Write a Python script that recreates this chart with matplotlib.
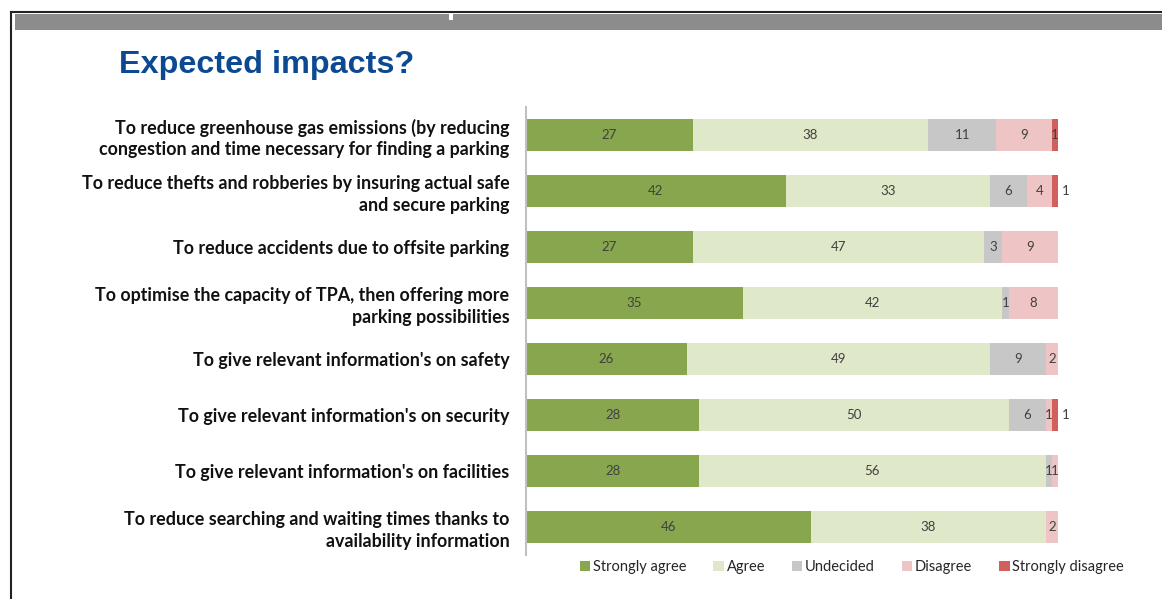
import matplotlib.pyplot as plt
import numpy as np

categories = [
    "To reduce greenhouse gas emissions (by reducing\ncongestion and time necessary for finding a parking",
    "To reduce thefts and robberies by insuring actual safe\nand secure parking",
    "To reduce accidents due to offsite parking",
    "To optimise the capacity of TPA, then offering more\nparking possibilities",
    "To give relevant information's on safety",
    "To give relevant information's on security",
    "To give relevant information's on facilities",
    "To reduce searching and waiting times thanks to\navailability information",
]
series = ["Strongly agree", "Agree", "Undecided", "Disagree", "Strongly disagree"]
strongly_agree = [27, 42, 27, 35, 26, 28, 28, 46]
agree = [38, 33, 47, 42, 49, 50, 56, 38]
undecided = [11, 6, 3, 1, 9, 6, 1, 0]
disagree = [9, 4, 9, 8, 2, 1, 1, 2]
strongly_disagree = [1, 1, 0, 0, 0, 1, 0, 0]
# labels of these (row, series) segments sit just right of the bar
outside = [(1, 4), (5, 4)]

colors = ["#88a64e", "#dfe8c8", "#c7c7c7", "#eec4c4", "#d1605d"]
font = ["Lato", "DejaVu Sans"]

fig = plt.figure(figsize=(11.62, 5.99), dpi=100)

# slide frame
fig.add_artist(plt.Line2D([11 / 1162, 11 / 1162], [0, 1 - 12 / 599], color="#222222", lw=1.5))
fig.add_artist(plt.Line2D([11 / 1162, 1], [1 - 12 / 599, 1 - 12 / 599], color="#222222", lw=1.5))
fig.add_artist(plt.Rectangle((15 / 1162, 1 - 30 / 599), 1, 16 / 599, color="#8c8c8c", lw=0))
fig.add_artist(plt.Rectangle((449 / 1162, 1 - 20 / 599), 4 / 1162, 6 / 599, color="white", lw=0))

fig.text(119 / 1162, 1 - 65 / 599, "Expected impacts?", fontsize=23.3, fontweight="bold",
         color="#0b4a92", family="Liberation Sans", va="center", ha="left")

ax = fig.add_axes([526 / 1162, 44 / 599, 532 / 1162, 448 / 599])
data = np.array([strongly_agree, agree, undecided, disagree, strongly_disagree])
y = np.arange(len(categories))
left = np.zeros(len(categories))
for i, name in enumerate(series):
    ax.barh(y, data[i], left=left, height=0.57, color=colors[i], label=name)
    for r in range(len(categories)):
        v = data[i][r]
        if v == 0:
            continue
        if (r, i) in outside:
            x, ha = left[r] + v + 0.6, "left"
        else:
            x, ha = left[r] + v / 2, "center"
        ax.text(x, r, str(v), ha=ha, va="center", fontsize=9.5, color="#404040",
                family=font, clip_on=False)
    left += data[i]

ax.set_xlim(0, 86)
ax.set_ylim(len(categories) - 0.5, -0.5)
ax.set_yticks(y)
ax.set_yticklabels(categories, fontsize=12.9, fontweight="bold", family=font, color="#111111",
                   linespacing=1.3)
ax.tick_params(axis="y", length=0, pad=12)
ax.set_xticks([])
for s in ["top", "right", "bottom"]:
    ax.spines[s].set_visible(False)
ax.spines["left"].set_color("#c0c0c0")
ax.spines["left"].set_linewidth(1.5)

handles, labels = ax.get_legend_handles_labels()
leg = fig.legend(handles, labels, loc="center", bbox_to_anchor=(852 / 1162, 1 - 567 / 599),
                 ncol=5, frameon=False, handlelength=0.7, handleheight=0.7,
                 handletextpad=0.2, columnspacing=1.85, prop={"family": font, "size": 10.5})
for t in leg.get_texts():
    t.set_color("#262626")

plt.savefig("out.png", dpi=100)
